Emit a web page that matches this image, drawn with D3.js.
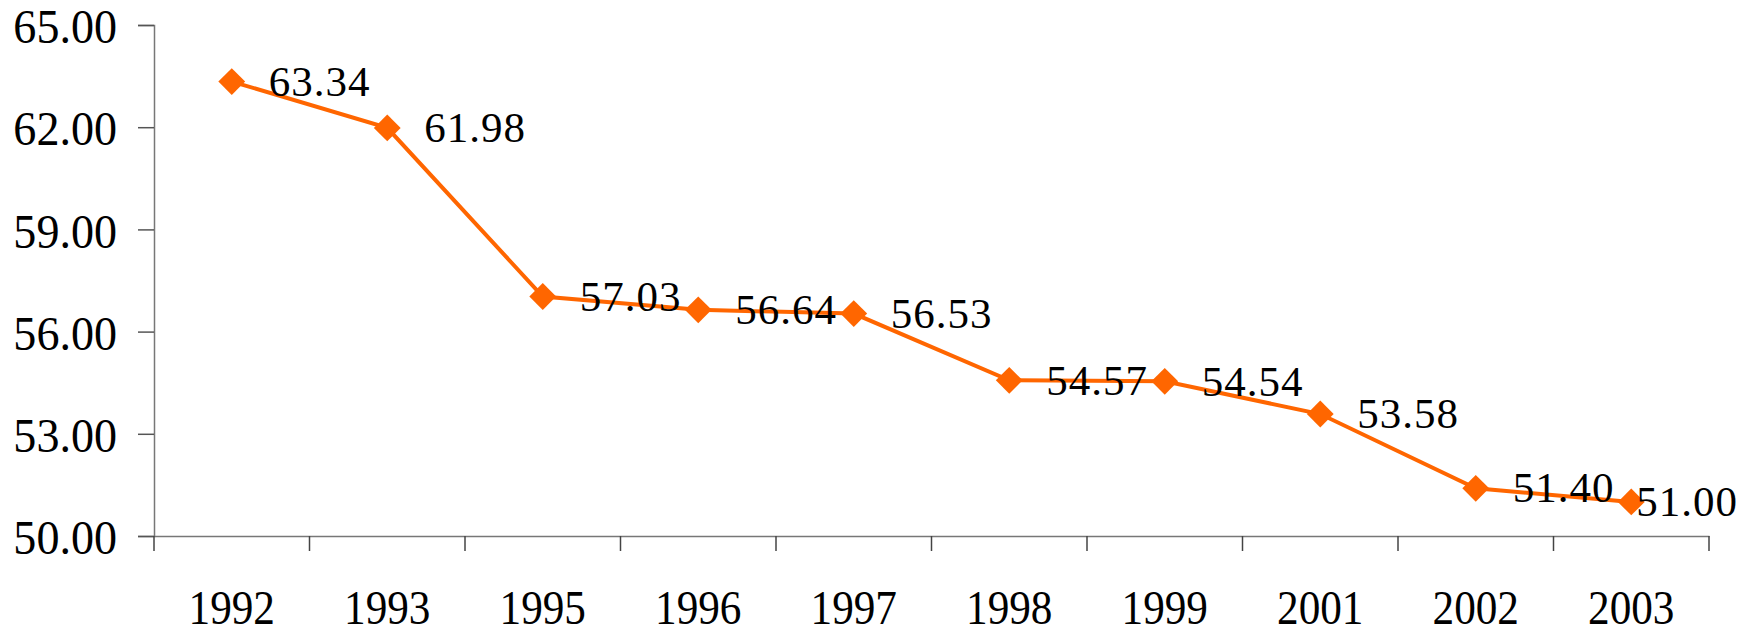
<!DOCTYPE html>
<html>
<head>
  <meta charset="utf-8"><script src="https://d3js.org/d3.v7.min.js"></script>
  <style>body{margin:0;background:white}</style>
</head>
<body>
  <svg id="mychart" width="1760" height="636" style="background: white"></svg>
<script>
  years  = ["1992", "1993", "1995", "1996", "1997", "1998", "1999", "2001", "2002", "2003"]
  values = [63.34, 61.98, 57.03, 56.64, 56.53, 54.57, 54.54, 53.58, 51.40, 51.00]
  yTicks = [50, 53, 56, 59, 62, 65]

  width = 1760
  height = 636
  margin = ({top: 25, right: 51, bottom: 100, left: 154})
  font = "'Liberation Serif', 'Times New Roman', serif"
  orange = "#ff6600"

  // squeeze text horizontally, like the narrow serif of the original
  squeeze = (sel, k) => sel.each(function () {
    let w = this.getComputedTextLength()
    d3.select(this).attr("textLength", w * k).attr("lengthAdjust", "spacingAndGlyphs")
  })

  x = d3.scaleBand()
      .domain(years)
      .range([margin.left, width - margin.right])

  y = d3.scaleLinear()
      .domain([50, 65])
      .range([height - margin.bottom, margin.top])

  svg = d3.select("#mychart")

  // y axis
  svg.append("g")
      .attr("transform", `translate(${margin.left},0)`)
      .call(d3.axisLeft(y).tickValues(yTicks).tickFormat(d3.format(".2f")).tickSize(16).tickPadding(21))
      .call(g => g.select(".domain").attr("stroke", "#777").attr("stroke-width", 1.5))
      .call(g => g.selectAll(".tick line").attr("stroke", "#555").attr("stroke-width", 1.5))
      .call(g => g.selectAll(".tick text")
          .attr("font-family", font).attr("font-size", 49).attr("fill", "#000")
          .attr("dy", "0.36em")
          .call(squeeze, 0.94))

  // x axis, ticks between categories
  svg.append("g")
      .attr("transform", `translate(0,${y(50)})`)
      .call(d3.axisBottom(x).tickSize(0).tickPadding(54))
      .call(g => g.select(".domain").attr("stroke", "#777").attr("stroke-width", 1.5))
      .call(g => g.selectAll(".tick text")
          .attr("font-family", font).attr("font-size", 48).attr("fill", "#000")
          .call(squeeze, 0.9))

  svg.append("g")
      .selectAll("line")
      .data(years.concat(["end"]))
      .join("line")
      .attr("x1", (d, i) => i < years.length ? x(d) : x(years[years.length - 1]) + x.bandwidth())
      .attr("x2", (d, i) => i < years.length ? x(d) : x(years[years.length - 1]) + x.bandwidth())
      .attr("y1", y(50))
      .attr("y2", y(50) + 15)
      .attr("stroke", "#444")
      .attr("stroke-width", 1.5)

  cx = d => x(d) + x.bandwidth() / 2

  line = d3.line()
      .x((d, i) => cx(years[i]))
      .y(d => y(d))

  svg.append("path")
      .datum(values)
      .attr("fill", "none")
      .attr("stroke", orange)
      .attr("stroke-width", 4)
      .attr("d", line)

  svg.append("g")
      .selectAll("path")
      .data(values)
      .join("path")
      .attr("d", d3.symbol(d3.symbolSquare, 360))
      .attr("transform", (d, i) => `translate(${cx(years[i])},${y(d)}) rotate(45)`)
      .attr("fill", orange)

  // data labels, kept inside the svg
  svg.append("g")
      .selectAll("text")
      .data(values)
      .join("text")
      .attr("font-family", font)
      .attr("font-size", 43)
      .attr("letter-spacing", 1)
      .attr("fill", "#000")
      .attr("dy", "0.33em")
      .attr("y", d => y(d))
      .text(d => d.toFixed(2))
      .attr("x", function (d, i) {
        let lx = cx(years[i]) + 37
        let w = this.getComputedTextLength()
        return Math.min(lx, width - 22 - w)
      })
</script>
</body>
</html>
